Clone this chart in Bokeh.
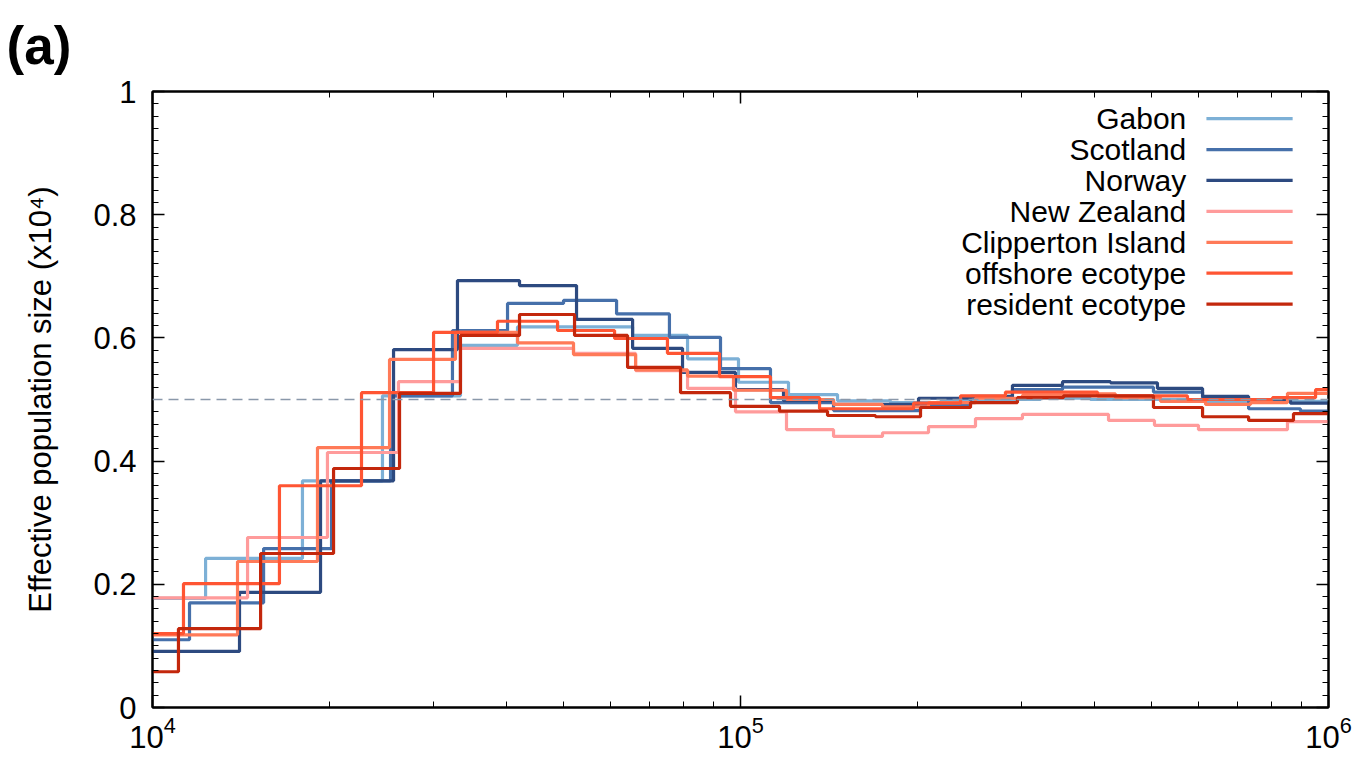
from bokeh.plotting import figure
from bokeh.models import (FixedTicker, LogAxis, LinearAxis, Span, Label, Range1d,
                          LogTickFormatter, CustomJSTickFormatter, Title)
from bokeh.embed import file_html
from bokeh.resources import INLINE

# ---------------- data ----------------
series_names = ["Gabon", "Scotland", "Norway", "New Zealand",
                "Clipperton Island", "offshore ecotype", "resident ecotype"]
series_colors = ["#7DB0D6", "#4670AA", "#2D4A80", "#FF9B9B",
                 "#FF7A58", "#FF5533", "#C3270C"]

gabon_t = [10000, 12310, 17990, 24610, 33400, 41760, 65540, 81270, 99220,
           120680, 146220, 179930, 218870, 266140, 323700, 393770, 582440]
gabon_ne = [0.177, 0.242, 0.368, 0.506, 0.588, 0.618, 0.604, 0.566, 0.528,
            0.508, 0.498, 0.495, 0.497, 0.500, 0.502, 0.500, 0.497]

scotland_t = [10000, 11560, 15450, 20160, 25400, 32370, 40160, 50010, 61550,
              75710, 92470, 112460, 143950, 202370, 246120, 290060, 352870,
              503870, 610680, 731310, 896080]
scotland_ne = [0.110, 0.170, 0.258, 0.368, 0.506, 0.612, 0.656, 0.661, 0.639,
               0.601, 0.550, 0.495, 0.482, 0.490, 0.503, 0.516, 0.520,
               0.512, 0.500, 0.485, 0.481]

norway_t = [10000, 14060, 19310, 25700, 33010, 42090, 52620, 65540, 79690,
            98060, 118340, 143950, 200790, 246120, 290060, 352870, 425860,
            511820, 610680, 731310, 861660]
norway_ne = [0.091, 0.187, 0.368, 0.581, 0.693, 0.685, 0.630, 0.583, 0.544,
             0.516, 0.498, 0.492, 0.502, 0.505, 0.523, 0.529, 0.527,
             0.518, 0.505, 0.500, 0.494]

nz_t = [10000, 14510, 19840, 26200, 33400, 52000, 66310, 81270, 98060,
        119740, 143950, 174390, 208810, 250980, 301650, 422540, 505850,
        600980, 851600]
nz_ne = [0.178, 0.276, 0.414, 0.529, 0.583, 0.575, 0.547, 0.518, 0.480,
         0.451, 0.440, 0.446, 0.456, 0.469, 0.476, 0.466, 0.458,
         0.451, 0.464]

clip_t = [10000, 13950, 19080, 25300, 32750, 41760, 52000, 66310, 81270,
          97300, 119740, 143950, 174390, 208810, 250980, 301650, 364080,
          434280, 517950, 617900, 737060, 851600]
clip_ne = [0.118, 0.237, 0.422, 0.565, 0.609, 0.592, 0.573, 0.548, 0.538,
           0.515, 0.500, 0.492, 0.488, 0.495, 0.502, 0.507, 0.509,
           0.503, 0.497, 0.492, 0.495, 0.510]

off_t = [10000, 11290, 16440, 22670, 30060, 38610, 48850, 61070, 75120,
         92110, 112460, 136270, 196900, 236700, 282210, 404720, 575630,
         803010, 950570]
off_ne = [0.120, 0.201, 0.360, 0.511, 0.609, 0.627, 0.612, 0.599, 0.575,
          0.537, 0.503, 0.485, 0.494, 0.506, 0.512, 0.506, 0.500,
          0.503, 0.516]

res_t = [10000, 11070, 15270, 20320, 26310, 33400, 42090, 52210, 64260,
         79070, 96160, 116500, 140610, 169670, 202370, 246120, 295800,
         354250, 503870, 610680, 731310, 871840]
res_ne = [0.058, 0.128, 0.250, 0.388, 0.510, 0.604, 0.638, 0.604, 0.552,
          0.511, 0.489, 0.481, 0.474, 0.472, 0.487, 0.495, 0.503,
          0.506, 0.487, 0.472, 0.466, 0.477]

all_t = [gabon_t, scotland_t, norway_t, nz_t, clip_t, off_t, res_t]
all_ne = [gabon_ne, scotland_ne, norway_ne, nz_ne, clip_ne, off_ne, res_ne]

x_start, x_end = 1e4, 1e6
y_ticks = [0, 0.2, 0.4, 0.6, 0.8, 1.0]
y_tick_labels = ["0", "0.2", "0.4", "0.6", "0.8", "1"]
x_ticks = [1e4, 1e5, 1e6]

FONT = "Liberation Sans"

# ---------------- figure ----------------
p = figure(width=1359, height=760, x_axis_type="log",
           x_range=Range1d(x_start, x_end), y_range=Range1d(0, 1),
           output_backend="svg", toolbar_location=None,
           min_border_left=152, min_border_right=31,
           min_border_top=91, min_border_bottom=53)
p.xgrid.visible = False
p.ygrid.visible = False
p.outline_line_color = "black"
p.outline_line_width = 2
p.background_fill_color = "white"
p.border_fill_color = "white"

p.title = Title(text="(a)", align="left", offset=-146,
                text_font=FONT, text_font_size="53px",
                text_font_style="bold", text_color="black", standoff=24)

x_minor = [m * 10 ** k for k in (4, 5) for m in range(2, 10)]
y_minor = [round(0.02 * i, 2) for i in range(51)]
xt = FixedTicker(ticks=x_ticks, minor_ticks=x_minor)
yt = FixedTicker(ticks=y_ticks, minor_ticks=y_minor)

blank = CustomJSTickFormatter(code="return ' ';")


def style_axis(ax, labels=True):
    ax.axis_line_color = "black"
    ax.axis_line_width = 2
    ax.major_tick_in = 12
    ax.major_tick_out = 0
    ax.minor_tick_in = 6
    ax.minor_tick_out = 0
    ax.major_tick_line_color = "black"
    ax.minor_tick_line_color = "black"
    ax.major_tick_line_width = 1.5
    ax.minor_tick_line_width = 1
    ax.major_label_text_font = FONT
    ax.major_label_text_color = "black"
    ax.major_label_text_font_size = "31px"
    if not labels:
        ax.formatter = blank
        ax.major_label_text_font_size = "2px"
        ax.major_label_standoff = 0


xa = p.xaxis[0]
xa.ticker = xt
xa.formatter = LogTickFormatter()
style_axis(xa)
xa.major_label_standoff = 8

ya = p.yaxis[0]
ya.ticker = yt
style_axis(ya)
ya.major_label_standoff = 16
ya.formatter = CustomJSTickFormatter(
    args=dict(vals=y_ticks, labs=y_tick_labels),
    code="""
    for (let i = 0; i < vals.length; i++) {
        if (Math.abs(tick - vals[i]) < 1e-6) { return labs[i]; }
    }
    return '';
    """)
ya.axis_label = "Effective population size (x10\u2074)"
ya.axis_label_text_font = FONT
ya.axis_label_text_font_size = "31px"
ya.axis_label_text_font_style = "normal"
ya.axis_label_text_color = "black"
ya.axis_label_standoff = 32

top_ax = LogAxis(ticker=xt)
style_axis(top_ax, labels=False)
p.add_layout(top_ax, "above")
right_ax = LinearAxis(ticker=yt)
style_axis(right_ax, labels=False)
p.add_layout(right_ax, "right")

# reference line
p.add_layout(Span(location=0.5, dimension="width", line_color="#8A98AA",
                  line_width=1.3, line_dash="10 6"))

# step curves
for t, ne, c in zip(all_t, all_ne, series_colors):
    xs = list(t) + [x_end]
    ys = list(ne) + [ne[-1]]
    p.step(xs, ys, mode="after", line_color=c, line_width=3.2)

# legend (label then line sample, gnuplot style)
leg_text_x = 5.73e5
leg_line = (6.2e5, 8.69e5)
leg_y0, leg_dy = 0.956, 0.0502
for i, (name, c) in enumerate(zip(series_names, series_colors)):
    yy = leg_y0 - i * leg_dy
    p.add_layout(Label(x=leg_text_x, y=yy, text=name, text_align="right",
                       text_baseline="middle", text_font=FONT,
                       text_font_size="30px", text_color="black"))
    p.line(list(leg_line), [yy, yy], line_color=c, line_width=3.2)

open("out.html", "w").write(file_html(p, INLINE))
